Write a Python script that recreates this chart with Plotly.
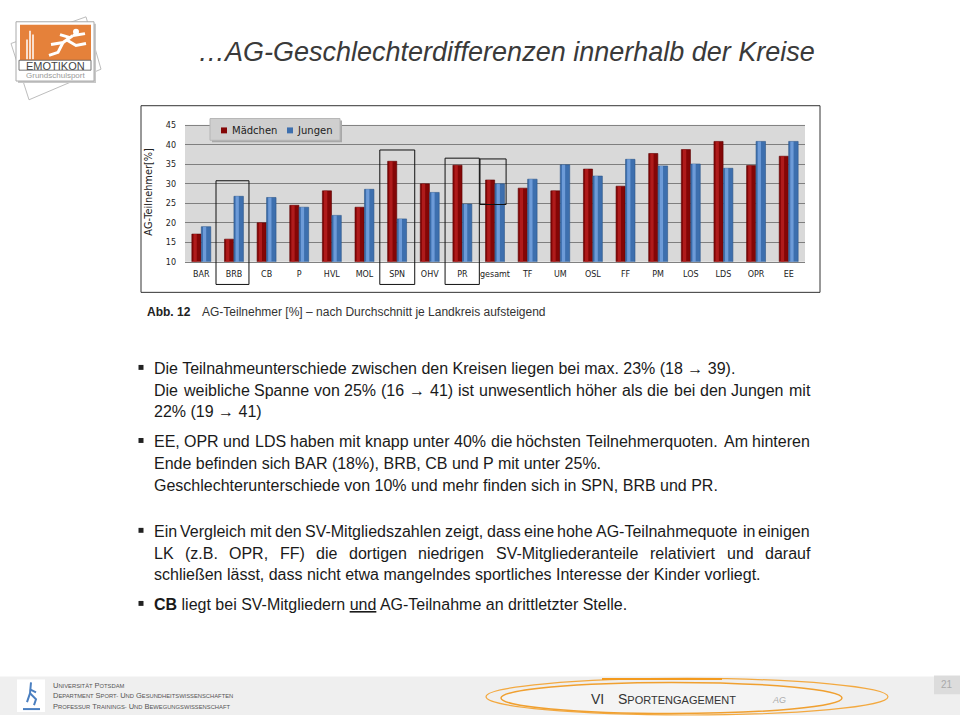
import plotly.graph_objects as go

# ---------------- data ----------------
categories = ["BAR", "BRB", "CB", "P", "HVL", "MOL", "SPN", "OHV", "PR", "gesamt",
              "TF", "UM", "OSL", "FF", "PM", "LOS", "LDS", "OPR", "EE"]
maedchen = [17.1, 15.8, 20.0, 24.5, 28.2, 24.0, 35.8, 30.0, 34.8, 31.0,
            28.9, 28.2, 33.8, 29.4, 37.8, 38.8, 40.9, 34.7, 37.1]
jungen = [19.0, 26.8, 26.5, 24.0, 21.9, 28.6, 21.0, 27.8, 24.8, 30.0,
          31.2, 34.9, 32.0, 36.3, 34.6, 35.1, 34.0, 40.9, 40.9]
y_ticks = [10, 15, 20, 25, 30, 35, 40, 45]
series_names = ["Mädchen", "Jungen"]

title_text = "…AG-Geschlechterdifferenzen innerhalb der Kreise"
y_title = "AG-Teilnehmer[%]"
caption_bold = "Abb. 12"
caption_text = "AG-Teilnehmer [%] – nach Durchschnitt je Landkreis aufsteigend"

# (text, justified?, bullet?)
body_lines = [
    ("Die Teilnahmeunterschiede zwischen den Kreisen liegen bei max. 23% (18 → 39).", False, True),
    ("Die weibliche Spanne von 25% (16 → 41) ist unwesentlich höher als die bei den Jungen mit", True, False),
    ("22% (19 → 41)", False, False),
    ("EE, OPR und LDS haben mit knapp unter 40% die höchsten Teilnehmerquoten. Am hinteren", True, True),
    ("Ende befinden sich BAR (18%), BRB, CB und P mit unter 25%.", False, False),
    ("Geschlechterunterschiede von 10% und mehr finden sich in SPN, BRB und PR.", False, False),
    ("Ein Vergleich mit den SV-Mitgliedszahlen zeigt, dass eine hohe AG-Teilnahmequote in einigen", True, True),
    ("LK (z.B. OPR, FF) die dortigen niedrigen SV-Mitgliederanteile relativiert und darauf", True, False),
    ("schließen lässt, dass nicht etwa mangelndes sportliches Interesse der Kinder vorliegt.", False, False),
    ("<b>CB</b> liegt bei SV-Mitgliedern <u>und</u> AG-Teilnahme an drittletzter Stelle.", False, True),
]
body_y = [369, 391, 413, 443, 465, 488, 534, 556, 578, 608]

footer_lines = ["Universität Potsdam",
                "Department Sport- und Gesundheitswissenschaften",
                "Professur Trainings- und Bewegungswissenschaft"]

# highlight boxes: (category, left offset, right offset, top value, bottom value or None)
boxes = [("BRB", -0.55, 0.46, 30.8, None),
         ("SPN", -0.53, 0.54, 38.7, None),
         ("PR", -0.53, 0.52, 36.6, None),
         ("gesamt", -0.46, 0.34, 36.4, 24.7)]

# ---------------- helpers ----------------
W, H = 960, 720
def px(x): return x / W
def py(y): return 1 - y / H

PL, PR_, PT, PB = 185, 805, 123, 261   # plot area in pixels
YMIN, YMAX = 10, 45
n = len(categories)
def xcat(i, off=0.0): return PL + (i + 0.5 + off) * (PR_ - PL) / n
def yval(v): return PB - (v - YMIN) * (PB - PT) / (YMAX - YMIN)

AW = {' ': 278, 'a': 556, 'b': 556, 'c': 500, 'd': 556, 'e': 556, 'f': 278, 'g': 556, 'h': 556,
      'i': 222, 'j': 222, 'k': 500, 'l': 222, 'm': 833, 'n': 556, 'o': 556, 'p': 556, 'q': 556,
      'r': 333, 's': 500, 't': 278, 'u': 556, 'v': 500, 'w': 722, 'x': 500, 'y': 500, 'z': 500,
      'A': 667, 'B': 667, 'C': 722, 'D': 722, 'E': 667, 'F': 611, 'G': 778, 'H': 722, 'I': 278,
      'J': 500, 'K': 667, 'L': 556, 'M': 833, 'N': 722, 'O': 778, 'P': 667, 'Q': 778, 'R': 722,
      'S': 667, 'T': 611, 'U': 722, 'V': 667, 'W': 944, 'X': 667, 'Y': 667, 'Z': 611,
      '%': 889, '(': 333, ')': 333, '.': 278, ',': 278, '-': 333, '→': 1000, 'ö': 556,
      'ä': 556, 'ü': 556, 'ß': 611}
def tw(s, size): return sum(AW.get(c, 556) for c in s) * size / 1000

BODY_FONT = "Liberation Sans, Arial, sans-serif"
CHART_FONT = "DejaVu Sans, Verdana, sans-serif"

ann = []
shapes = []
def A(text, x, y, xa="center", ya="middle", **kw):
    d = dict(text=text, x=px(x), y=py(y), xref="paper", yref="paper", xanchor=xa, yanchor=ya,
             showarrow=False)
    d.update(kw)
    ann.append(d)

def R(x0, y0, x1, y1, **kw):
    d = dict(type="rect", xref="paper", yref="paper", x0=px(x0), x1=px(x1), y0=py(y1), y1=py(y0))
    d.update(kw)
    shapes.append(d)

def path(pts, close=True):
    s = "M " + " L ".join(f"{px(x)},{py(y)}" for x, y in pts)
    return s + (" Z" if close else "")

fig = go.Figure()

# ---------------- bars ----------------
fig.add_trace(go.Bar(x=categories, y=maedchen, name=series_names[0], offset=-0.29, width=0.28,
                     marker=dict(color="#840606", line=dict(color="#5A0000", width=0.6)),
                     showlegend=False))
fig.add_trace(go.Bar(x=categories, y=jungen, name=series_names[1], offset=0.0, width=0.29,
                     marker=dict(color="#3D6FAE", line=dict(color="#2B5588", width=0.6)),
                     showlegend=False))
# cylinder highlights
fig.add_trace(go.Bar(x=categories, y=maedchen, offset=-0.24, width=0.10, hoverinfo="skip",
                     marker=dict(color="rgba(190,35,35,0.75)", line=dict(width=0)), showlegend=False))
fig.add_trace(go.Bar(x=categories, y=jungen, offset=0.05, width=0.10, hoverinfo="skip",
                     marker=dict(color="rgba(125,170,230,0.75)", line=dict(width=0)), showlegend=False))

fig.update_layout(
    width=W, height=H, margin=dict(l=0, r=0, t=0, b=0), autosize=False,
    paper_bgcolor="white", plot_bgcolor="#D9D9D9",
    barmode="overlay", showlegend=False,
    xaxis=dict(domain=[px(PL), px(PR_)], range=[-0.5, n - 0.5], type="category",
               showgrid=False, showline=True, linecolor="#808080", linewidth=1,
               ticks="", ticklabelstandoff=5,
               tickfont=dict(family=CHART_FONT, size=8, color="#222")),
    yaxis=dict(domain=[py(PB), py(PT)], range=[YMIN, YMAX], tickvals=y_ticks,
               showgrid=True, gridcolor="#7F7F7F", gridwidth=1, zeroline=False,
               showline=False, ticks="", ticklabelstandoff=8,
               tickfont=dict(family=CHART_FONT, size=8, color="#222")),
)

# chart border
R(141, 103, 820, 292, line=dict(color="#333", width=1))
# top gridline reinforcement
shapes.append(dict(type="line", xref="paper", yref="paper", x0=px(PL), x1=px(PR_), y0=py(PT), y1=py(PT),
                   line=dict(color="#7F7F7F", width=1)))

# y title
A(y_title, 149, 190, textangle=-90, font=dict(family=CHART_FONT, size=9.8, color="#222"))

# legend (manual)
R(212, 118, 342, 140, fillcolor="#A8A8A8", line=dict(width=0), layer="above")
R(210, 116, 340, 138, fillcolor="#CFCFCF", line=dict(color="#B5B5B5", width=1), layer="above")
leg_items = [(221, "#840606", 230), (287, "#3D6FAE", 295)]
for (sx, col, tx), name in zip(leg_items, series_names):
    R(sx, 125, sx + 6, 131, fillcolor=col, line=dict(width=0), layer="above")
    A(name, tx, 128, xa="left", font=dict(family=CHART_FONT, size=10, color="#222"))

# highlight boxes
for cat, l, r, top, bot in boxes:
    i = categories.index(cat)
    y1 = yval(top)
    y0 = yval(bot) if bot is not None else 284
    R(xcat(i, l), y1, xcat(i, r), y0, line=dict(color="#111", width=1), layer="above")

# title
A("<i>" + title_text + "</i>", 506, 49, font=dict(family=BODY_FONT, size=27, color="#3A3A3A"))

# caption
A("<b>" + caption_bold + "</b>", 145, 312, xa="left", font=dict(family=BODY_FONT, size=12, color="#222"))
A(caption_text, 200, 312, xa="left", font=dict(family=BODY_FONT, size=12, color="#333"))

# body text
TX0, TX1, FS = 152, 808, 16
for (line, just, bullet), yy in zip(body_lines, body_y):
    if bullet:
        R(138.5, yy - 3.5, 143.5, yy + 1.5, fillcolor="#222", line=dict(width=0))
    if just:
        words = line.split(" ")
        wsum = sum(tw(w, FS) for w in words)
        gap = (TX1 - TX0 - wsum) / (len(words) - 1)
        xx = TX0
        for w in words:
            A(w, xx, yy, xa="left", font=dict(family=BODY_FONT, size=FS, color="#1A1A1A"))
            xx += tw(w, FS) + gap
    else:
        A(line, TX0, yy, xa="left", font=dict(family=BODY_FONT, size=FS, color="#1A1A1A"))

# ---------------- logo ----------------
shapes.append(dict(type="path", xref="paper", yref="paper", path=path([(11, 40), (86, 13), (101, 66), (29, 97)]),
                   line=dict(color="#BDBDBD", width=1)))
R(18, 20, 96, 80, fillcolor="#C8C8C8", line=dict(width=0))
R(16, 18, 94, 78, fillcolor="white", line=dict(color="#AAAAAA", width=1))
R(20, 21, 91, 57, fillcolor="#E5813A", line=dict(width=0))
for lx, ly in [(27, 36), (30, 27), (33, 31)]:
    shapes.append(dict(type="line", xref="paper", yref="paper", x0=px(lx), x1=px(lx), y0=py(56), y1=py(ly),
                       line=dict(color="white", width=1.5)))
shapes.append(dict(type="circle", xref="paper", yref="paper", x0=px(73), x1=px(79), y0=py(31), y1=py(25),
                   fillcolor="white", line=dict(width=0)))
for seg in [[(73, 32), (63, 39), (51, 41)], [(73, 32), (85, 30)], [(63, 39), (58, 49), (49, 52)],
            [(66, 36), (76, 42), (86, 40)], [(70, 34), (60, 31)]]:
    shapes.append(dict(type="path", xref="paper", yref="paper", path=path(seg, close=False),
                       line=dict(color="white", width=3)))
R(19, 57, 91, 67, fillcolor="white", line=dict(color="#555", width=0.8))
A("ΕMOTIKON", 55, 62.5, font=dict(family=BODY_FONT, size=11, color="#444"))
A("Grundschulsport", 55, 72, font=dict(family=BODY_FONT, size=8, color="#999"))

# ---------------- footer ----------------
FY = 3  # footer vertical nudge
shapes.append(dict(type="rect", xref="paper", yref="paper", x0=0, x1=1, y0=0, y1=py(678 + FY),
                   fillcolor="#EFEFEF", line=dict(width=0), layer="below"))
R(17, 681 + FY, 45, 717, fillcolor="white", line=dict(width=0))
for seg in [[(31, 684), (30, 695), (27, 704)], [(30, 695), (36, 701), (34, 707)], [(30, 691), (36, 694)],
            [(23, 711), (40, 711)]]:
    shapes.append(dict(type="path", xref="paper", yref="paper",
                       path=path([(a, b + FY) for a, b in seg], close=False),
                       line=dict(color="#4A7FC0", width=2)))

def smallcaps(text, big, small):
    out = []
    for word in text.split(" "):
        if not word:
            continue
        first, rest = word[0], word[1:]
        out.append(f"<span style='font-size:{big}px'>{first.upper()}</span>"
                   f"<span style='font-size:{small}px'>{rest.upper()}</span>")
    return " ".join(out)

for k, fl in enumerate(footer_lines):
    A(smallcaps(fl, 7.5, 5.8), 51, 687 + FY + 10.5 * k, xa="left",
      font=dict(family=BODY_FONT, size=7, color="#555"))

# orange rings
shapes.append(dict(type="circle", xref="paper", yref="paper", x0=px(486), x1=px(888), y0=py(720), y1=py(680 + FY),
                   line=dict(color="#F3A940", width=1.2)))
shapes.append(dict(type="circle", xref="paper", yref="paper", x0=px(501), x1=px(842), y0=py(717 + FY / 2),
                   y1=py(684 + FY), fillcolor="rgba(255,255,255,0.35)", line=dict(color="#F0A030", width=1.5)))
shapes.append(dict(type="line", xref="paper", yref="paper", x0=px(602), x1=px(722), y0=py(680.5 + FY),
                   y1=py(680.5 + FY), line=dict(color="#F39A1E", width=2)))
A("VI", 589, 701 + FY, xa="left", font=dict(family=BODY_FONT, size=14, color="#333"))
A(smallcaps("Sportengagement", 14, 11), 616, 701 + FY, xa="left",
  font=dict(family=BODY_FONT, size=12, color="#333"))
A("<i>AG</i>", 770, 702 + FY, xa="left", font=dict(family=BODY_FONT, size=9, color="#AAAAAA"))
# page number
R(934, 677 + FY, 960, 696 + FY, fillcolor="#DCDCDC", line=dict(width=0))
A("21", 947, 686.5 + FY, font=dict(family=BODY_FONT, size=10, color="#AAAAAA"))

fig.update_layout(shapes=shapes, annotations=ann)
fig.write_html("out.html", config={"displayModeBar": False},
               post_script="document.body.style.margin='0px';document.body.style.overflow='hidden';")
